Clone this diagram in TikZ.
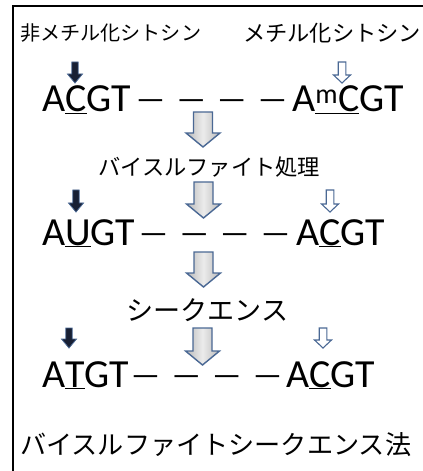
\documentclass[tikz,border=0pt]{standalone}
\usepackage{fontspec}
\usepackage{graphicx}
\setmainfont{Carlito}
\newfontfamily\jpfont{Noto Sans CJK JP}
\definecolor{arrowedge}{RGB}{74,104,148}
\definecolor{navyfill}{RGB}{24,32,52}
\newcommand\blkarrow[7]{% style, x, ytop, ytip, shaft half, head half, head length
  \path[#1] (#2-#5,#3) -- (#2+#5,#3) -- (#2+#5,#4-#7) -- (#2+#6,#4-#7) -- (#2,#4)
    -- (#2-#6,#4-#7) -- (#2-#5,#4-#7) -- cycle;}
\newcommand\dashrow{—\hspace{11.8bp}—\hspace{11.8bp}—\hspace{11.8bp}—}
\newcommand\jptext[2]{\resizebox{#1bp}{!}{\jpfont #2}}
\tikzset{
  jp/.style={inner sep=0pt, anchor=west},
  seq/.style={inner sep=0pt, anchor=base west, font=\fontsize{40}{40}\selectfont},
  dashes/.style={inner sep=0pt, anchor=base west, font=\fontsize{32}{32}\selectfont},
  darkarrow/.style={draw=arrowedge, line width=0.8bp, fill=navyfill},
  openarrow/.style={draw=arrowedge, line width=1.1bp, fill=white},
  bigarrow/.style={draw=arrowedge, line width=1.4bp, left color=gray!55, right color=gray!55, middle color=gray!15},
}
\begin{document}
\begin{tikzpicture}[x=1bp, y=-1bp]
\useasboundingbox (0,0) rectangle (422,471);
% frame
\draw[line width=2bp] (12.5,471) -- (12.5,6) -- (423,6);
% labels
\node[jp] (unmeth) at (20,33.5) {\jptext{181}{非メチル化シトシン}};
\node[jp] (meth) at (243,33.5) {\jptext{178}{メチル化シトシン}};
% row 1
\blkarrow{darkarrow}{75}{62}{83}{3.2}{7.5}{9}
\blkarrow{openarrow}{342}{62}{83}{3.8}{8.5}{8}
\node[seq] (l1) at (42,112) {A\underline{C}GT};
\node[dashes] (d1) at (136,110) {\dashrow};
\node[seq] (r1) at (292,112) {A\underline{\textsuperscript{m}C}GT};
\blkarrow{bigarrow}{203}{112}{147}{9.5}{17}{14}
% step 1
\node[jp] (bis) at (98,167) {\jptext{222}{バイスルファイト処理}};
% row 2
\blkarrow{darkarrow}{76}{190}{212}{3.2}{7.5}{9}
\blkarrow{openarrow}{330}{190}{212}{3.8}{8.5}{8}
\blkarrow{bigarrow}{203.5}{182}{218}{9.5}{17}{14}
\node[seq] (l2) at (42,245) {A\underline{U}GT};
\node[dashes] (d2) at (139,243) {\dashrow};
\node[seq] (r2) at (296,245) {A\underline{C}GT};
\blkarrow{bigarrow}{203.5}{252}{287}{9.5}{17}{14}
% step 2
\node[jp] (seqlabel) at (126,310) {\jptext{162}{シークエンス}};
% row 3
\blkarrow{darkarrow}{69}{328}{348}{3.2}{7.5}{9}
\blkarrow{openarrow}{323}{328}{348}{3.8}{8.5}{8}
\node[seq] (l3) at (42,387) {A\underline{T}GT};
\node[dashes] (d3) at (131,385) {\dashrow};
\node[seq] (r3) at (286,387) {A\underline{C}GT};
\blkarrow{bigarrow}{202.5}{328}{365}{9.5}{17}{14}
% title
\node[jp] (method) at (20,445) {\jptext{391}{バイスルファイトシークエンス法}};
\end{tikzpicture}
\end{document}
